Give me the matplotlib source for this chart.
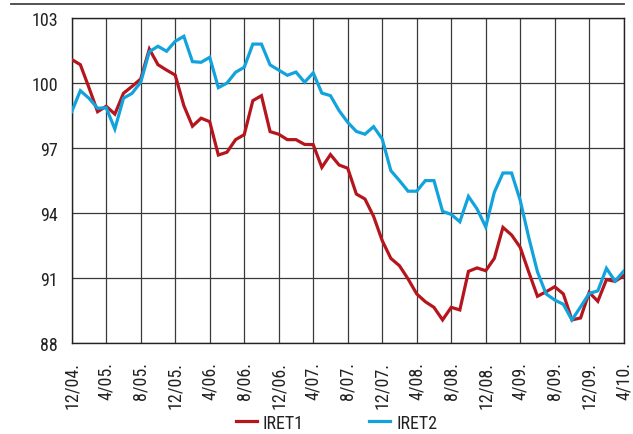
import matplotlib
matplotlib.use("Agg")
import matplotlib.pyplot as plt
from matplotlib import font_manager
from matplotlib.lines import Line2D

# ---- data ----
tick_labels = ["12/04.", "4/05.", "8/05.", "12/05.", "4/06.", "8/06.", "12/06.", "4/07.",
               "8/07.", "12/07.", "4/08.", "8/08.", "12/08.", "4/09.", "8/09.", "12/09.", "4/10."]

iret1 = [101.1, 100.86, 99.8, 98.69, 98.94, 98.58, 99.54, 99.86, 100.2, 101.58,
         100.86, 100.61, 100.38, 98.97, 98.02, 98.39, 98.23, 96.69, 96.82, 97.4,
         97.63, 99.2, 99.43, 97.77, 97.65, 97.4, 97.4, 97.18, 97.17, 96.12,
         96.71, 96.23, 96.08, 94.89, 94.66, 93.86, 92.74, 91.92, 91.58, 90.97,
         90.28, 89.92, 89.66, 89.08, 89.66, 89.54, 91.32, 91.48, 91.35, 91.92,
         93.35, 93.0, 92.43, 91.28, 90.17, 90.38, 90.61, 90.28, 89.08, 89.17,
         90.35, 89.94, 90.94, 90.86, 91.12]

iret2 = [98.69, 99.66, 99.31, 98.85, 98.87, 97.89, 99.31, 99.54, 100.05, 101.46,
         101.71, 101.48, 101.94, 102.17, 101.0, 100.97, 101.2, 99.8, 100.01, 100.51,
         100.74, 101.81, 101.81, 100.85, 100.61, 100.37, 100.52, 100.05, 100.48, 99.55,
         99.43, 98.74, 98.2, 97.78, 97.65, 98.0, 97.43, 95.97, 95.51, 95.02,
         95.02, 95.51, 95.51, 94.09, 93.95, 93.61, 94.78, 94.2, 93.37, 94.97,
         95.86, 95.86, 94.6, 92.87, 91.3, 90.28, 90.0, 89.8, 89.08, 89.68,
         90.3, 90.42, 91.46, 90.87, 91.33]

y_ticks = [88, 91, 94, 97, 100, 103]

# ---- fonts ----
avail = {f.name for f in font_manager.fontManager.ttflist}
fam = [f for f in ["Liberation Sans Narrow", "Roboto Condensed", "Liberation Sans", "DejaVu Sans"] if f in avail]
plt.rcParams["font.family"] = fam

red = "#B5161E"
blue = "#12A3DC"

fig = plt.figure(figsize=(6.33, 4.35), dpi=100)
ax = fig.add_axes([0.1133, 0.2085, 0.872, 0.7471])

x = list(range(len(iret1)))
ax.plot(x, iret1, color=red, lw=2.3, solid_joinstyle="miter", zorder=3)
ax.plot(x, iret2, color=blue, lw=2.3, solid_joinstyle="miter", zorder=3)

ax.set_xlim(0, len(iret1) - 1)
ax.set_ylim(88, 103)
ax.set_yticks(y_ticks)
ax.set_yticklabels([str(v) for v in y_ticks], fontsize=13, color="#222222")
ax.set_xticks(list(range(0, len(iret1), 4)))
ax.set_xticklabels(tick_labels, rotation=90, fontsize=13, color="#222222")
ax.tick_params(axis="both", length=0)
ax.tick_params(axis="x", pad=13)
ax.tick_params(axis="y", pad=10)
ax.grid(True, color="#3a3a3a", lw=0.9, zorder=1)
for s in ax.spines.values():
    s.set_color("#222222")
    s.set_linewidth(1.0)

# top rule
fig.add_artist(Line2D([11 / 633, 624 / 633], [1 - 4.5 / 435, 1 - 4.5 / 435],
                      color="#444444", lw=1.3, transform=fig.transFigure))

handles = [Line2D([], [], color=red, lw=2.3), Line2D([], [], color=blue, lw=2.3)]
fig.legend(handles, ["IRET1", "IRET2"], loc="lower left", bbox_to_anchor=(0.347, -0.032),
           ncol=2, frameon=False, fontsize=13, handlelength=1.15, handletextpad=0.35,
           columnspacing=3.6, labelcolor="#222222")

fig.savefig("out.png", dpi=100)
